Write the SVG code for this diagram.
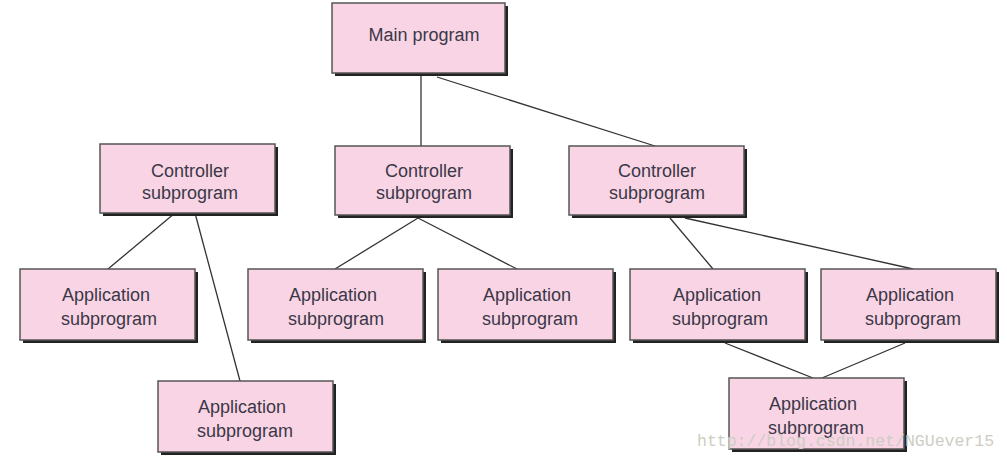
<svg xmlns="http://www.w3.org/2000/svg" width="1007" height="461" viewBox="0 0 1007 461">
<style>
.sh{fill:#222;}
.bx{fill:#f9d4e4;stroke:#555;stroke-width:1.5;}
.t{font-family:"Liberation Sans",Arial,sans-serif;font-size:18px;fill:#3a3848;text-anchor:middle;}
.c line{stroke:#333;stroke-width:1.3;}
.wm{font-family:"Liberation Mono","DejaVu Sans Mono",monospace;font-size:16.5px;fill:#cdcdc4;}
</style>
<rect width="1007" height="461" fill="#fff"/>
<g class="c" id="connectors">
<line x1="421" y1="73" x2="421" y2="146"/>
<line x1="437" y1="77" x2="655" y2="146"/>
<line x1="175" y1="213" x2="108" y2="269"/>
<line x1="195" y1="213" x2="240" y2="381"/>
<line x1="418" y1="218" x2="335" y2="269"/>
<line x1="418" y1="218" x2="517" y2="269"/>
<line x1="670" y1="218" x2="713" y2="269"/>
<line x1="685" y1="218" x2="913" y2="269"/>
<line x1="725" y1="343" x2="813" y2="378"/>
<line x1="905" y1="343" x2="822" y2="378"/>
</g>
<g id="main"><rect class="sh" x="335" y="6" width="173" height="70"/><rect class="bx" x="332" y="3" width="173" height="70"/><text class="t" x="424" y="41">Main program</text></g>
<g id="ctrl1"><rect class="sh" x="103" y="147" width="175" height="69"/><rect class="bx" x="100" y="144" width="175" height="69"/><text class="t" x="190" y="177">Controller</text><text class="t" x="190" y="199">subprogram</text></g>
<g id="ctrl2"><rect class="sh" x="338" y="149" width="175" height="69"/><rect class="bx" x="335" y="146" width="175" height="69"/><text class="t" x="424" y="177">Controller</text><text class="t" x="424" y="199">subprogram</text></g>
<g id="ctrl3"><rect class="sh" x="572" y="149" width="175" height="69"/><rect class="bx" x="569" y="146" width="175" height="69"/><text class="t" x="657" y="177">Controller</text><text class="t" x="657" y="199">subprogram</text></g>
<g id="app1"><rect class="sh" x="23" y="272" width="175" height="71"/><rect class="bx" x="20" y="269" width="175" height="71"/><text class="t" x="106" y="301">Application</text><text class="t" x="109" y="325">subprogram</text></g>
<g id="app2"><rect class="sh" x="161" y="384" width="175" height="71"/><rect class="bx" x="158" y="381" width="175" height="71"/><text class="t" x="242" y="413">Application</text><text class="t" x="245" y="437">subprogram</text></g>
<g id="app3"><rect class="sh" x="251" y="272" width="175" height="71"/><rect class="bx" x="248" y="269" width="175" height="71"/><text class="t" x="333" y="301">Application</text><text class="t" x="336" y="325">subprogram</text></g>
<g id="app4"><rect class="sh" x="441" y="272" width="175" height="71"/><rect class="bx" x="438" y="269" width="175" height="71"/><text class="t" x="527" y="301">Application</text><text class="t" x="530" y="325">subprogram</text></g>
<g id="app5"><rect class="sh" x="633" y="272" width="175" height="71"/><rect class="bx" x="630" y="269" width="175" height="71"/><text class="t" x="717" y="301">Application</text><text class="t" x="720" y="325">subprogram</text></g>
<g id="app6"><rect class="sh" x="824" y="272" width="175" height="71"/><rect class="bx" x="821" y="269" width="175" height="71"/><text class="t" x="910" y="301">Application</text><text class="t" x="913" y="325">subprogram</text></g>
<g id="app7"><rect class="sh" x="732" y="381" width="175" height="71"/><rect class="bx" x="729" y="378" width="175" height="71"/><text class="t" x="813" y="410">Application</text><text class="t" x="816" y="434">subprogram</text></g>
<text class="wm" x="697" y="446">http://blog.csdn.net/NGUever15</text>
</svg>
